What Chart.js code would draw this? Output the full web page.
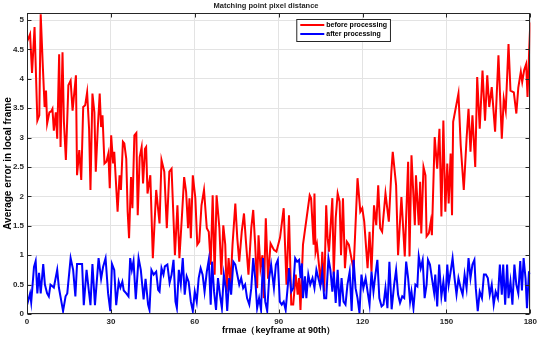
<!DOCTYPE html>
<html>
<head>
<meta charset="utf-8">
<script src="https://cdn.jsdelivr.net/npm/chart.js@4.4.1/dist/chart.umd.min.js"></script>
<style>
  html, body { margin: 0; padding: 0; background: #fff; }
</style>
</head>
<body>
<canvas id="errorChart" width="540" height="340"></canvas>
<script>
// Readings taken off the plot: frame position and average error
const redFrames = [0, 1.1, 1.8, 2.7, 3.7, 4.4, 4.9, 5.6, 6.3, 6.8, 7.2, 8.0, 8.7, 9.1, 9.6, 10.3, 10.8, 11.5, 12.0, 12.7,
  13.2, 13.9, 14.8, 15.6, 16.3, 16.7, 17.5, 17.9, 18.7, 19.4, 20.1, 20.8, 21.5, 22.2, 22.7, 23.4, 24.1, 24.6, 25.3, 26.0,
  26.5, 27.0, 27.7, 28.4, 29.1, 29.6, 30.1, 30.8, 31.2, 32.0, 32.4, 33.1, 33.6, 34.3, 34.8, 35.5, 36.0, 36.5, 37.2, 37.7,
  38.4, 39.1, 39.6, 40.3, 41.0, 41.5, 42.2, 42.6, 43.1, 44.1, 45.0, 46.2, 47.4, 48.1, 49.1, 50.0, 50.9, 51.7, 52.9, 53.8,
  54.5, 55.5, 56.2, 56.9, 57.6, 58.1, 58.6, 59.3, 60.2, 60.9, 61.6, 62.4, 63.3, 64.3, 65.0, 65.7, 66.4, 67.1, 67.8, 68.8,
  69.5, 70.2, 70.9, 71.4, 72.1, 72.8, 73.5, 74.5, 75.2, 75.9, 76.8, 77.6, 78.3, 79.2, 80.2, 80.9, 81.6, 82.3, 82.8, 83.5,
  84.2, 84.7, 85.4, 86.2, 87.1, 88.3, 89.2, 90.5, 91.8, 92.8, 93.7, 94.5, 95.2, 96.1, 96.8, 97.3, 97.8, 98.7, 101.1, 101.6,
  102.5, 102.8, 103.2, 103.7, 104.4, 105.1, 105.6, 106.3, 107.0, 107.5, 108.0, 109.2, 109.7, 110.4, 111.1, 111.8, 112.3, 113.0, 113.7, 114.4,
  115.1, 116.8, 118.2, 119.2, 119.9, 120.6, 121.8, 122.5, 123.2, 124.1, 124.9, 125.6, 126.3, 127.0, 128.2, 129.4, 130.3, 130.8, 132.0, 132.7,
  133.9, 135.1, 136.3, 136.8, 137.5, 138.7, 139.1, 140.1, 140.6, 141.0, 141.8, 142.5, 142.9, 143.7, 144.4, 144.8, 145.8, 146.7, 147.5, 148.2,
  148.9, 149.6, 150.3, 150.8, 151.5, 152.0, 152.4, 154.3, 155.1, 156.2, 157.2, 157.9, 158.6, 159.3, 160.3, 161.0, 161.9, 162.9, 163.8, 164.6,
  165.3, 166.2, 167.4, 168.6, 169.8, 170.5, 171.2, 172.2, 172.9, 174.1, 175.0, 175.7, 176.6, 177.1, 177.8, 178.5, 179.0, 179.6, 180];
const redValues = [4.63, 4.76, 4.1, 4.88, 3.29, 3.38, 5.1, 4.28, 3.52, 3.8, 3.24, 3.43, 3.45, 3.49, 3.12, 3.43, 2.98, 4.42, 2.84, 4.45,
  3.27, 2.62, 3.89, 3.97, 3.46, 3.66, 4.06, 2.36, 2.79, 2.28, 3.52, 3.55, 3.77, 3.15, 2.11, 3.75, 3.43, 2.42, 3.15, 3.75,
  3.18, 3.38, 2.56, 2.59, 2.73, 2.14, 3.04, 2.56, 2.76, 2.08, 1.74, 2.36, 2.11, 2.93, 2.9, 2.64, 1.74, 1.29, 2.33, 1.8,
  3.04, 3.08, 1.68, 2.67, 2.84, 2.22, 2.81, 2.84, 2.05, 2.36, 0.95, 2.11, 1.54, 2.62, 2.42, 1.46, 2.42, 2.47, 1.0, 1.85,
  0.95, 1.74, 2.33, 2.08, 1.46, 1.97, 1.29, 2.36, 1.97, 1.18, 1.23, 1.85, 2.11, 1.46, 1.4, 0.84, 2.02, 0.67, 2.02, 1.46,
  0.67, 1.51, 1.18, 0.38, 0.95, 0.5, 1.18, 1.88, 1.29, 0.89, 1.4, 1.71, 1.23, 0.67, 1.46, 1.77, 1.18, 0.44, 1.34, 0.78,
  1.0, 0.27, 1.63, 0.6, 1.2, 1.09, 1.06, 1.3, 1.8, 0.5, 1.68, 0.16, 0.16, 0.67, 0.33, 0.61, 0.07, 1.18, 2.02, 1.97,
  1.18, 2.05, 1.06, 1.18, 0.84, 0.5, 1.06, 0.38, 1.85, 1.29, 1.06, 1.97, 0.67, 1.63, 2.05, 1.91, 1.0, 1.97, 0.78, 1.23,
  1.18, 0.75, 2.31, 1.74, 1.8, 1.57, 0.78, 1.4, 0.72, 1.85, 1.51, 2.19, 1.46, 1.4, 2.05, 1.57, 2.42, 2.76, 2.19, 1.0,
  1.99, 0.98, 2.59, 0.98, 2.7, 1.51, 2.36, 1.51, 2.25, 1.37, 2.5, 2.36, 1.32, 1.37, 1.57, 1.34, 3.01, 2.47, 3.15, 1.66,
  3.29, 1.74, 2.56, 1.88, 2.73, 1.68, 3.27, 3.75, 2.87, 2.11, 2.98, 3.49, 2.76, 3.38, 2.5, 4.03, 3.15, 4.14, 3.29, 4.06,
  3.52, 3.86, 3.1, 4.4, 2.98, 3.66, 3.46, 4.59, 3.8, 3.77, 3.41, 3.85, 4.12, 3.95, 4.15, 4.25, 3.69, 4.5, 4.96];

const blueFrames = [0, 1.1, 1.5, 2.5, 3.1, 3.7, 4.3, 4.9, 5.8, 6.4, 7.2, 7.8, 8.4, 9.6, 10.8, 11.4, 12.9, 13.8, 14.4, 15.6,
  16.5, 17.3, 17.9, 19.7, 20.3, 21.3, 22.1, 22.7, 23.4, 24.3, 25.6, 26.5, 27.2, 28.1, 29.0, 29.8, 30.4, 31.2, 31.9, 32.8,
  33.4, 34.1, 34.6, 35.5, 36.3, 36.9, 37.5, 38.1, 38.9, 39.9, 40.7, 41.7, 42.4, 43.3, 43.8, 44.5, 45.3, 46.2, 46.9, 47.4,
  48.1, 48.8, 49.3, 50.2, 51.0, 51.7, 52.4, 53.1, 53.6, 54.3, 55.0, 55.7, 56.4, 57.1, 57.8, 58.6, 59.3, 60.0, 60.7, 61.4,
  62.1, 62.8, 63.5, 64.3, 65.0, 65.7, 66.2, 66.9, 67.6, 68.3, 69.0, 69.7, 70.4, 71.1, 71.6, 72.3, 73.0, 73.8, 74.5, 75.2,
  75.9, 76.6, 77.3, 78.0, 78.7, 79.5, 80.2, 80.9, 81.6, 82.3, 83.0, 83.7, 84.4, 85.2, 85.9, 86.6, 87.3, 88.3, 89.0, 89.7,
  90.4, 91.1, 91.8, 92.5, 93.3, 93.7, 94.5, 95.2, 95.9, 96.6, 97.3, 97.8, 98.3, 98.7, 99.4, 99.9, 100.6, 101.3, 102.1, 102.8,
  103.5, 104.2, 104.9, 105.6, 106.3, 107.0, 107.8, 108.5, 109.2, 109.7, 110.4, 111.1, 111.8, 112.5, 113.2, 113.9, 114.6, 115.4, 116.1, 116.8,
  117.5, 118.2, 118.9, 119.6, 120.3, 121.1, 121.8, 122.5, 123.2, 123.9, 124.6, 125.3, 126.0, 126.8, 127.5, 128.2, 128.9, 129.6, 130.4, 131.3,
  132.0, 132.7, 133.4, 134.2, 134.9, 135.6, 136.3, 137.0, 137.5, 138.2, 138.9, 139.6, 140.1, 140.8, 141.5, 142.2, 142.9, 143.4, 144.1, 144.8,
  145.6, 146.0, 146.7, 147.4, 148.2, 148.9, 149.6, 150.3, 150.8, 151.5, 152.2, 152.9, 153.6, 154.3, 155.1, 155.8, 156.5, 157.2, 157.9, 158.6,
  159.3, 160.0, 160.5, 161.2, 161.9, 162.7, 163.4, 164.1, 164.8, 165.5, 166.2, 166.9, 167.6, 168.4, 169.1, 169.8, 170.3, 171.0, 171.7, 172.2,
  172.9, 173.6, 174.3, 175.0, 175.7, 176.4, 177.0, 177.6, 178.3, 178.8, 179.5, 180];
const blueValues = [0.15, 0.35, 0.2, 0.8, 0.9, 0.35, 0.7, 0.35, 0.85, 0.5, 0.35, 0.3, 0.5, 0.45, 0.75, 0.45, 0.05, 0.3, 0.35, 0.95,
  0.75, 0.3, 0.85, 0.85, 0.15, 0.75, 0.4, 0.15, 0.85, 0.15, 0.95, 0.6, 0.8, 0.95, 0.35, 0.05, 0.85, 0.75, 0.15, 0.55,
  0.45, 0.55, 0.4, 0.35, 0.3, 0.95, 0.75, 0.9, 0.25, 0.95, 0.75, 0.25, 0.6, 0.16, 0.07, 0.75, 0.67, 0.72, 0.41, 0.38,
  0.78, 0.67, 0.81, 0.84, 0.53, 0.67, 0.92, 0.21, 0.1, 0.75, 0.5, 0.95, 0.33, 0.64, 0.55, 0.21, 0.05, 0.38, 0.21, 0.61,
  0.78, 0.67, 0.38, 0.72, 0.92, 0.16, 0.89, 0.38, 0.07, 0.61, 0.33, 0.1, 0.67, 0.44, 0.05, 0.61, 0.33, 0.89, 0.84, 0.67,
  0.5, 0.61, 0.44, 0.5, 0.27, 0.16, 0.44, 0.95, 0.61, 0.1, 0.27, 0.07, 0.95, 0.21, 0.05, 0.61, 0.84, 0.44, 0.84, 0.92,
  0.21, 0.16, 0.21, 0.07, 0.5, 0.78, 0.38, 0.44, 0.95, 0.89, 0.92, 0.61, 0.86, 0.27, 0.64, 0.27, 0.67, 0.5, 0.61, 0.44,
  0.75, 0.61, 0.47, 0.72, 0.27, 0.27, 0.95, 0.75, 0.38, 0.72, 0.19, 0.75, 0.13, 0.61, 0.21, 0.16, 0.5, 0.72, 0.05, 0.92,
  0.44, 0.27, 0.02, 0.67, 0.44, 0.61, 0.38, 0.16, 0.72, 0.38, 0.67, 0.92, 0.27, 0.13, 0.16, 0.44, 0.1, 0.89, 0.08, 0.5,
  0.75, 0.33, 0.19, 0.3, 0.27, 0.89, 0.61, 0.21, 0.38, 0.1, 0.5, 0.47, 0.98, 0.78, 0.92, 0.27, 0.5, 0.92, 0.84, 0.61,
  0.36, 0.67, 0.13, 0.84, 0.3, 0.55, 0.21, 0.84, 0.5, 0.72, 0.95, 0.61, 0.33, 0.61, 0.44, 0.33, 0.67, 0.44, 0.95, 0.61,
  0.84, 0.92, 0.44, 0.05, 0.38, 0.27, 0.67, 0.67, 0.61, 0.33, 0.5, 0.16, 0.38, 0.27, 0.84, 0.33, 0.84, 0.16, 0.84, 0.27,
  0.55, 0.16, 0.84, 0.5, 0.35, 0.9, 0.4, 0.95, 0.6, 0.1, 0.7, 0.68];

const seriesLabels = ['before processing', 'after processing'];
const seriesColors = ['#FF0000', '#0000FF'];
const xTickStep = 30;
const yTickStep = 0.5;

const FONT = "'Liberation Sans', Arial, sans-serif";
const INK = '#262626';

// MATLAB-style box with inward ticks on all four sides
const frameBox = {
    id: 'frameBox',
    afterDatasetsDraw(chart) {
        const { ctx, chartArea: a, scales: { x, y } } = chart;
        const L = Math.round(a.left) + 0.5, R = Math.round(a.right) - 0.5;
        const T = Math.round(a.top) + 0.5, B = Math.round(a.bottom) - 0.5;
        ctx.save();
        ctx.strokeStyle = INK;
        ctx.lineWidth = 1;
        ctx.beginPath();
        x.ticks.forEach(t => {
            const px = Math.round(x.getPixelForValue(t.value)) + 0.5;
            ctx.moveTo(px, B); ctx.lineTo(px, B - 4);
            ctx.moveTo(px, T); ctx.lineTo(px, T + 4);
        });
        y.ticks.forEach(t => {
            const py = Math.round(y.getPixelForValue(t.value)) + 0.5;
            ctx.moveTo(L, py); ctx.lineTo(L + 4, py);
            ctx.moveTo(R, py); ctx.lineTo(R - 4, py);
        });
        ctx.stroke();
        ctx.strokeRect(L, T, R - L, B - T);
        ctx.restore();
    }
};

// legend box drawn inside the plot, near the top
const insideLegend = {
    id: 'insideLegend',
    afterDraw(chart) {
        const { ctx, chartArea: a } = chart;
        const left = a.left + (a.right - a.left) * 0.535;
        const top = a.top + 6;
        const rowH = 9;
        ctx.save();
        ctx.font = 'bold 7px ' + FONT;
        const textW = Math.max(...chart.data.datasets.map(d => ctx.measureText(d.label).width));
        const w = 4 + 24 + 2 + textW + 3;
        const h = rowH * chart.data.datasets.length + 4;
        ctx.fillStyle = '#fff';
        ctx.fillRect(left, top, w, h);
        ctx.strokeStyle = INK;
        ctx.lineWidth = 1;
        ctx.strokeRect(left + 0.5, top + 0.5, w, h);
        chart.data.datasets.forEach((d, i) => {
            const cy = top + 6 + i * rowH;
            ctx.strokeStyle = d.borderColor;
            ctx.lineWidth = 2;
            ctx.beginPath();
            ctx.moveTo(left + 4, cy);
            ctx.lineTo(left + 28, cy);
            ctx.stroke();
            ctx.fillStyle = '#000';
            ctx.textBaseline = 'middle';
            ctx.fillText(d.label, left + 30, cy + 0.5);
        });
        ctx.restore();
    }
};

function toPoints(frames, values) {
    return frames.map((f, i) => ({ x: f, y: values[i] }));
}

new Chart(document.getElementById('errorChart').getContext('2d'), {
    type: 'line',
    data: {
        datasets: [
            {
                label: seriesLabels[0],
                data: toPoints(redFrames, redValues),
                borderColor: seriesColors[0],
                borderWidth: 2,
                pointRadius: 0,
                tension: 0,
                order: 1
            },
            {
                label: seriesLabels[1],
                data: toPoints(blueFrames, blueValues),
                borderColor: seriesColors[1],
                borderWidth: 2,
                pointRadius: 0,
                tension: 0,
                order: 0
            }
        ]
    },
    options: {
        responsive: false,
        animation: false,
        layout: { padding: { left: 0, right: 8, top: 0, bottom: 0 } },
        plugins: {
            legend: { display: false },
            tooltip: { enabled: false },
            title: {
                display: true,
                text: 'Matching point pixel distance',
                font: { family: FONT, size: 7.5, weight: 'bold' },
                color: INK,
                padding: { top: 1, bottom: 3 }
            }
        },
        scales: {
            x: {
                type: 'linear',
                min: 0,
                max: 180,
                afterFit: s => { s.height = 26; },
                ticks: {
                    stepSize: xTickStep,
                    font: { family: FONT, size: 8, weight: 'bold' },
                    color: INK,
                    padding: 3,
                    maxRotation: 0
                },
                grid: { color: '#e3e3e3', drawTicks: false },
                border: { display: false },
                title: {
                    display: true,
                    text: 'frmae（keyframe at 90th）',
                    font: { family: FONT, size: 9, weight: 'bold' },
                    color: '#000',
                    padding: { top: 0, bottom: 4 }
                }
            },
            y: {
                min: 0,
                max: 5.12,
                afterFit: s => { s.width = 27; },
                ticks: {
                    stepSize: yTickStep,
                    includeBounds: false,
                    font: { family: FONT, size: 8, weight: 'bold' },
                    color: INK,
                    padding: 3,
                    callback: v => String(Math.round(v * 10) / 10)
                },
                grid: { color: '#e3e3e3', drawTicks: false },
                border: { display: false },
                title: {
                    display: true,
                    text: 'Average error in local frame',
                    font: { family: FONT, size: 10, weight: 'bold' },
                    color: '#000',
                    padding: { top: 2, bottom: 0 }
                }
            }
        }
    },
    plugins: [frameBox, insideLegend]
});
</script>
</body>
</html>
